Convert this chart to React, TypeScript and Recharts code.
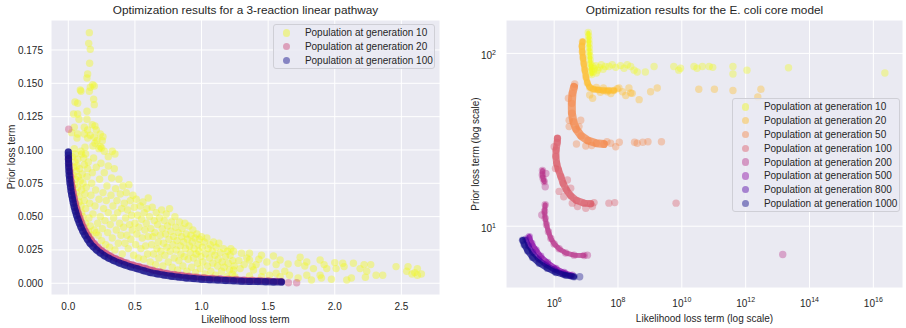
import { ScatterChart, Scatter, XAxis, YAxis, CartesianGrid } from "recharts";

type Pt = [number, number];

// ---------- left panel: 3-reaction linear pathway ----------
const linearXTicks = [0, 0.5, 1, 1.5, 2, 2.5];
const linearYTicks = [0, 0.025, 0.05, 0.075, 0.1, 0.125, 0.15, 0.175];
const linearGenerations = [10, 20, 100];
const linearColors = ["#f0f921", "#cc4778", "#0d0887"];

const linearGen10: Pt[] = [
  // sparse top of the cloud
  [0.158, 0.188], [0.153, 0.18], [0.165, 0.1755], [0.16, 0.165], [0.145, 0.157], [0.14, 0.154],
  [0.183, 0.149], [0.165, 0.147], [0.09, 0.145], [0.095, 0.144], [0.158, 0.144], [0.195, 0.148],
  [0.05, 0.136], [0.07, 0.135], [0.19, 0.138], [0.195, 0.134], [0.14, 0.129], [0.04, 0.127],
  [0.07, 0.127], [0.08, 0.123], [0.14, 0.123], [0.18, 0.119], [0.2, 0.118], [0.045, 0.117],
  [0.12, 0.117], [0.145, 0.115], [0.21, 0.115], [0.07, 0.112], [0.12, 0.112], [0.165, 0.111],
  [0.24, 0.112], [0.26, 0.11], [0.065, 0.109], [0.145, 0.109], [0.195, 0.1095], [0.2, 0.105],
  [0.255, 0.107], [0.045, 0.101], [0.125, 0.102], [0.23, 0.101], [0.25, 0.1015], [0.27, 0.099],
  [0.33, 0.099], [0.1, 0.097], [0.24, 0.1025], [0.35, 0.097], [0.025, 0.113], [0.3, 0.095],
  [0.185, 0.103], [0.215, 0.107],
  // dense band above the front
  [0.03, 0.095], [0.05, 0.091], [0.04, 0.087], [0.06, 0.084], [0.035, 0.081], [0.055, 0.078],
  [0.045, 0.074], [0.07, 0.072], [0.06, 0.068], [0.08, 0.065], [0.05, 0.097], [0.07, 0.093],
  [0.065, 0.088], [0.085, 0.086], [0.075, 0.08], [0.09, 0.077], [0.08, 0.061], [0.095, 0.058],
  [0.1, 0.07], [0.11, 0.075], [0.105, 0.082], [0.12, 0.089], [0.115, 0.094], [0.13, 0.097],
  [0.095, 0.099],
  [0.1, 0.053], [0.11, 0.05], [0.12, 0.062], [0.125, 0.067], [0.13, 0.056], [0.135, 0.072],
  [0.14, 0.08], [0.145, 0.086], [0.15, 0.091], [0.155, 0.049], [0.16, 0.06], [0.165, 0.043],
  [0.17, 0.066], [0.175, 0.075], [0.18, 0.083], [0.185, 0.052], [0.19, 0.094], [0.195, 0.04],
  [0.2, 0.058], [0.205, 0.07], [0.21, 0.087], [0.13, 0.045], [0.15, 0.039], [0.17, 0.036],
  [0.22, 0.045], [0.225, 0.036], [0.23, 0.063], [0.235, 0.078], [0.24, 0.05], [0.245, 0.09],
  [0.25, 0.032], [0.255, 0.041], [0.26, 0.068], [0.265, 0.056], [0.27, 0.083], [0.275, 0.047],
  [0.28, 0.029], [0.285, 0.062], [0.29, 0.073], [0.295, 0.038], [0.3, 0.088], [0.3, 0.053],
  [0.21, 0.038],
  [0.31, 0.027], [0.315, 0.044], [0.32, 0.066], [0.325, 0.079], [0.33, 0.034], [0.335, 0.058],
  [0.34, 0.049], [0.345, 0.086], [0.35, 0.025], [0.355, 0.071], [0.36, 0.04], [0.365, 0.062],
  [0.37, 0.053], [0.375, 0.03], [0.38, 0.078], [0.385, 0.045], [0.39, 0.067], [0.395, 0.036],
  [0.4, 0.056],
  [0.405, 0.022], [0.41, 0.073], [0.415, 0.042], [0.42, 0.06], [0.425, 0.03], [0.43, 0.049],
  [0.435, 0.068], [0.44, 0.036], [0.445, 0.055], [0.45, 0.026], [0.455, 0.074], [0.46, 0.044],
  [0.465, 0.062], [0.47, 0.033], [0.475, 0.051], [0.48, 0.04], [0.485, 0.066], [0.49, 0.021],
  [0.495, 0.057], [0.5, 0.045],
  [0.505, 0.029], [0.51, 0.063], [0.515, 0.037], [0.52, 0.051], [0.525, 0.019], [0.53, 0.042],
  [0.54, 0.058], [0.545, 0.026], [0.55, 0.048], [0.555, 0.034], [0.56, 0.061], [0.565, 0.018],
  [0.57, 0.053], [0.575, 0.04], [0.58, 0.028], [0.585, 0.045], [0.59, 0.056], [0.595, 0.022],
  [0.6, 0.035], [0.6, 0.064],
  [0.61, 0.05], [0.615, 0.016], [0.62, 0.041], [0.625, 0.029], [0.63, 0.057], [0.635, 0.035],
  [0.64, 0.022], [0.645, 0.047], [0.65, 0.038], [0.655, 0.014], [0.66, 0.053], [0.665, 0.026],
  [0.67, 0.044], [0.675, 0.031], [0.68, 0.019], [0.685, 0.049], [0.69, 0.036], [0.695, 0.024],
  [0.7, 0.055],
  [0.705, 0.041], [0.71, 0.013], [0.715, 0.03], [0.72, 0.047], [0.725, 0.021], [0.73, 0.037],
  [0.735, 0.052], [0.74, 0.027], [0.745, 0.043], [0.75, 0.016], [0.755, 0.033], [0.76, 0.056],
  [0.765, 0.024], [0.77, 0.039], [0.775, 0.046], [0.78, 0.012], [0.785, 0.029], [0.79, 0.035],
  [0.795, 0.019], [0.8, 0.05],
  [0.805, 0.042], [0.81, 0.025], [0.815, 0.032], [0.82, 0.01], [0.825, 0.038], [0.83, 0.017],
  [0.835, 0.046], [0.84, 0.028], [0.845, 0.022], [0.85, 0.035], [0.855, 0.041], [0.86, 0.013],
  [0.865, 0.031], [0.87, 0.02], [0.875, 0.045], [0.88, 0.026], [0.885, 0.037], [0.89, 0.009],
  [0.895, 0.033], [0.9, 0.018],
  [0.905, 0.043], [0.91, 0.028], [0.915, 0.023], [0.92, 0.036], [0.925, 0.012], [0.93, 0.031],
  [0.935, 0.04], [0.94, 0.019], [0.945, 0.026], [0.95, 0.034], [0.955, 0.008], [0.96, 0.022],
  [0.965, 0.037], [0.97, 0.015], [0.975, 0.029], [0.98, 0.024], [0.985, 0.033], [0.99, 0.011],
  [0.995, 0.02], [1.0, 0.035],
  [1.005, 0.027], [1.01, 0.016], [1.02, 0.031], [1.025, 0.007], [1.03, 0.022], [1.04, 0.034],
  [1.045, 0.013], [1.05, 0.026], [1.06, 0.019], [1.065, 0.029], [1.07, 0.009], [1.08, 0.024],
  [1.085, 0.015], [1.09, 0.031], [1.1, 0.021],
  [1.105, 0.006], [1.11, 0.027], [1.12, 0.013], [1.125, 0.018], [1.13, 0.03], [1.14, 0.023],
  [1.15, 0.009], [1.155, 0.016], [1.165, 0.026], [1.17, 0.012], [1.18, 0.02], [1.19, 0.005],
  [1.195, 0.024], [1.2, 0.015], [1.21, 0.01], [1.215, 0.021], [1.22, 0.026], [1.23, 0.007],
  [1.235, 0.017], [1.245, 0.013],
  // long tail
  [1.24, 0.024], [1.3, 0.0225], [1.36, 0.0225], [1.34, 0.019], [1.36, 0.0175], [1.45, 0.021],
  [1.54, 0.0205], [1.59, 0.0175], [1.49, 0.016], [1.41, 0.014], [1.56, 0.014], [1.65, 0.0145],
  [1.74, 0.0195], [1.725, 0.015], [1.79, 0.016], [1.775, 0.013], [1.89, 0.0175], [1.84, 0.011],
  [1.92, 0.014], [1.94, 0.011], [2.0, 0.0155], [2.01, 0.011], [2.06, 0.015], [2.07, 0.0125],
  [2.14, 0.015], [2.19, 0.011], [2.22, 0.014], [2.27, 0.014], [2.24, 0.009], [2.31, 0.006],
  [2.36, 0.006], [2.46, 0.0125], [2.54, 0.009], [2.55, 0.0125], [2.6, 0.008], [2.62, 0.011],
  [2.65, 0.007], [2.62, 0.006], [2.58, 0.007], [1.725, 0.004], [1.825, 0.0025], [1.9, 0.004],
  [1.975, 0.003], [2.09, 0.0025], [2.125, 0.004], [2.23, 0.0045], [1.79, 0.006], [1.89, 0.006],
  [1.66, 0.006], [1.59, 0.005], [1.51, 0.006], [1.46, 0.009], [1.39, 0.01], [1.29, 0.011],
  [1.24, 0.01], [1.25, 0.005], [1.36, 0.0055], [1.45, 0.005], [1.56, 0.0075], [1.625, 0.009],
  [1.28, 0.017], [1.32, 0.014], [1.38, 0.0125], [1.43, 0.018],
];

const linearGen20Front: Pt[] = [
  [0.002, 0.094], [0.006, 0.089], [0.012, 0.084], [0.018, 0.08], [0.024, 0.076], [0.031, 0.072],
  [0.038, 0.068], [0.046, 0.064], [0.055, 0.06], [0.065, 0.056], [0.076, 0.0525], [0.088, 0.049],
  [0.101, 0.0455], [0.116, 0.042], [0.133, 0.0387], [0.152, 0.0355], [0.173, 0.0325], [0.197, 0.0297],
  [0.223, 0.027], [0.252, 0.0246], [0.283, 0.0225], [0.317, 0.0205], [0.354, 0.0187], [0.394, 0.017],
  [0.437, 0.0154], [0.482, 0.0139], [0.53, 0.0126], [0.58, 0.0113], [0.632, 0.0098], [0.685, 0.0086],
  [0.74, 0.0076], [0.795, 0.0067], [0.85, 0.006], [0.905, 0.0053], [0.96, 0.0047], [1.02, 0.0042],
  [1.08, 0.0038], [1.14, 0.0034], [1.2, 0.0031], [1.26, 0.0028], [1.32, 0.0025], [1.38, 0.0023],
  [1.44, 0.0021], [1.5, 0.0019], [1.56, 0.0016], [1.6, 0.0014],
];
const linearGen20Stray: Pt[] = [[0.003, 0.1155], [1.652, 0.0004], [1.714, 0.0004]];

const linearGen100Front: Pt[] = [
  [0.0, 0.0985], [0.0005, 0.096], [0.001, 0.093], [0.002, 0.09], [0.003, 0.087], [0.005, 0.084],
  [0.007, 0.081], [0.01, 0.078], [0.013, 0.075], [0.017, 0.072], [0.021, 0.069], [0.026, 0.066],
  [0.032, 0.063], [0.038, 0.06], [0.045, 0.057], [0.053, 0.054], [0.062, 0.051], [0.072, 0.048],
  [0.083, 0.045], [0.095, 0.042], [0.109, 0.039], [0.125, 0.036], [0.143, 0.033], [0.163, 0.03],
  [0.186, 0.0275], [0.212, 0.025], [0.24, 0.0228], [0.27, 0.0207], [0.303, 0.0188], [0.34, 0.017],
  [0.38, 0.0153], [0.422, 0.0138], [0.467, 0.0123], [0.515, 0.011], [0.565, 0.0094], [0.615, 0.008],
  [0.667, 0.007], [0.72, 0.0061], [0.775, 0.0053], [0.83, 0.0046], [0.885, 0.004], [0.94, 0.0035],
  [1.0, 0.003], [1.06, 0.0027], [1.12, 0.0024], [1.18, 0.0021], [1.24, 0.0018], [1.3, 0.0016],
  [1.36, 0.0014], [1.42, 0.0013], [1.48, 0.0011], [1.54, 0.001], [1.6, 0.0009],
];

// ---------- right panel: E. coli core model (log-log) ----------
const ecoliXTicks = [1e6, 1e8, 1e10, 1e12, 1e14, 1e16];
const ecoliYTicks = [10, 100];
const ecoliGenerations = [10, 20, 50, 100, 200, 500, 800, 1000];
const ecoliColors = ["#f0f921", "#febd2a", "#f48849", "#db5c68", "#b83289", "#8b0aa5", "#5302a3", "#0d0887"];
const ecoliBandWidths = [4, 6, 8, 7, 5, 5, 5, 6];

const ecoliGen10Front: Pt[] = [
  [1.17e7, 132], [1.2e7, 126], [1.22e7, 120], [1.24e7, 114], [1.26e7, 108], [1.28e7, 102],
  [1.31e7, 97], [1.34e7, 92], [1.38e7, 87], [1.42e7, 83], [1.45e7, 79], [1.5e7, 75.5],
];
const ecoliGen10Stray: Pt[] = [
  [1.6e7, 84], [1.8e7, 81.5], [2e7, 85], [2.3e7, 80], [2.6e7, 83], [3e7, 86], [3.4e7, 81],
  [4e7, 84], [2.1e7, 77], [1.7e7, 78.5], [5.2e7, 84], [6.6e7, 86], [8.5e7, 83], [1.2e8, 85],
  [1.55e8, 82], [1.95e8, 86], [2.5e8, 84], [3.2e8, 80], [4e8, 78], [7.2e8, 78], [1.35e9, 84],
  [5.6e9, 84], [8e9, 80], [9.1e9, 82], [2.4e10, 84], [3e10, 82], [4.4e10, 84], [7.2e10, 84],
  [9.3e10, 83], [4e11, 84], [4e11, 76], [1.1e12, 80], [2.2e13, 82.5], [2.3e16, 77],
];

const ecoliGen20Front: Pt[] = [
  [7.7e6, 117], [7.4e6, 110], [7.6e6, 102], [8e6, 94], [8.5e6, 87], [9.1e6, 80], [9.9e6, 73],
  [1.1e7, 67.5], [1.3e7, 63.5], [1.7e7, 62], [2.4e7, 61.5], [3.5e7, 61], [5e7, 61], [7.5e7, 61],
];
const ecoliGen20Stray: Pt[] = [
  [1.3e7, 57.5], [1.6e7, 55], [2.1e7, 63.5], [2.8e7, 59.5], [3.5e7, 63], [4.6e7, 60], [6e7, 58.5],
  [9.5e7, 62.5], [1.07e8, 63], [1.38e8, 60], [1.75e8, 57], [2.2e8, 63], [2.5e8, 59], [2.8e8, 58.7],
  [4.6e8, 54], [1.05e9, 60], [1.7e9, 63], [3.4e10, 62], [1.05e11, 62], [4e11, 61], [2.4e12, 56],
  [3e12, 62],
];

const ecoliGen50Front: Pt[] = [
  [4.2e6, 64], [3.75e6, 58.7], [3.57e6, 51.4], [3.6e6, 45], [4e6, 40.3], [4.9e6, 36.4],
  [7e6, 33.3], [1.15e7, 31.3], [2.1e7, 30.2], [3.6e7, 29.9],
];
const ecoliGen50Stray: Pt[] = [
  [4.4e6, 66.5], [2.8e6, 55], [2.95e6, 41], [2.95e6, 37.7], [6.8e6, 41], [6e6, 37.7], [5e6, 29.9],
  [9.8e6, 29.1], [1.5e7, 29.3], [4.5e7, 30.8], [5.9e7, 30.2], [8.5e7, 28.8], [1.1e8, 30.6],
  [3.3e8, 30.6], [4e8, 30.2], [6e8, 30.6], [8.7e8, 30.8], [2.3e9, 30.8],
];

const ecoliGen100Front: Pt[] = [
  [1.27e6, 32.3], [1.25e6, 30.5], [1.15e6, 27.6], [1.13e6, 25.3], [1.2e6, 23.1], [1.36e6, 21.2],
  [1.62e6, 19.4], [1.91e6, 17.7], [2.43e6, 16.2], [3.3e6, 15], [5e6, 14.1], [8.7e6, 13.6], [1.4e7, 13.5],
];
const ecoliGen100Stray: Pt[] = [
  [1e6, 28.8], [1.1e6, 21.6], [1.43e6, 15.9], [2e6, 14.8], [3.7e6, 13.6], [5.4e6, 13], [9.8e6, 12.7],
  [1.58e7, 13], [1.78e7, 13.7], [2.6e6, 18.5], [3.3e6, 16.6], [5.2e7, 13.6], [7.9e7, 13.7], [6.6e9, 13.6],
];

const ecoliGen200Cluster: Pt[] = [[4.3e5, 21], [4.25e5, 19.8], [4.5e5, 18.9], [4.9e5, 18.1]];
const ecoliGen200Front: Pt[] = [
  [5.25e5, 13.3], [5e5, 12.2], [5.25e5, 11.1], [5.75e5, 10.2], [6.6e5, 9.3], [7.9e5, 8.5],
  [1e6, 7.9], [1.43e6, 7.4], [2.3e6, 7.0], [4.2e6, 6.8], [8.7e6, 6.77],
];
const ecoliGen200Stray: Pt[] = [[5.5e5, 20.2], [5.25e5, 16.9], [4.1e5, 11.6], [1.1e7, 6.8], [1.45e13, 6.86]];

const ecoliGen500Front: Pt[] = [
  [1.66e5, 8.7], [2e5, 7.95], [2.7e5, 7.3], [3.8e5, 6.7], [6.2e5, 6.17], [1.13e6, 5.7], [2.05e6, 5.4], [3.7e6, 5.2],
];
const ecoliGen800Front: Pt[] = [
  [1.3e5, 8.4], [1.58e5, 7.7], [2.1e5, 7.05], [3.2e5, 6.45], [5.5e5, 5.97], [1e6, 5.6], [1.9e6, 5.3], [3.3e6, 5.16],
];
const ecoliGen1000Front: Pt[] = [
  [1.02e5, 8.3], [1.15e5, 7.8], [1.47e5, 7.2], [2.1e5, 6.6], [3.4e5, 6.1], [6.2e5, 5.7], [1.13e6, 5.4],
  [2.3e6, 5.2], [4.2e6, 5.1],
];
const ecoliGen1000Stray: Pt[] = [[6.3e6, 5.1]];

const ecoliFronts: Pt[][][] = [
  [ecoliGen10Front], [ecoliGen20Front], [ecoliGen50Front], [ecoliGen100Front],
  [ecoliGen200Cluster, ecoliGen200Front], [ecoliGen500Front], [ecoliGen800Front], [ecoliGen1000Front],
];
const ecoliStrays: Pt[][] = [
  ecoliGen10Stray, ecoliGen20Stray, ecoliGen50Stray, ecoliGen100Stray, ecoliGen200Stray, [], [], ecoliGen1000Stray,
];

// ---------- helpers ----------
const TEXT = "#262626";
const BG = "#eaeaf2";
const DOT_R = 3.7;

const toXY = (pts: Pt[]) => pts.map(([x, y]) => ({ x, y }));

const dotShape = (color: string, opacity: number) => (p: any) =>
  <circle cx={p.cx} cy={p.cy} r={DOT_R} fill={color} fillOpacity={opacity} />;

function band(key: string, pts: Pt[], color: string, width: number) {
  return (
    <Scatter
      key={key}
      data={toXY(pts)}
      fill={color}
      isAnimationActive={false}
      shape={dotShape(color, 0.38)}
      line={{ stroke: color, strokeWidth: width, strokeOpacity: 0.75, strokeLinecap: "round", strokeLinejoin: "round" }}
    />
  );
}

function cloud(key: string, pts: Pt[], color: string, opacity = 0.38) {
  return (
    <Scatter key={key} data={toXY(pts)} fill={color} isAnimationActive={false} shape={dotShape(color, opacity)} />
  );
}

function PowerTick(props: any) {
  const { x, y, payload, textAnchor, side } = props;
  const exp = Math.round(Math.log10(payload.value));
  return (
    <text x={x} y={y} textAnchor={textAnchor} fill={TEXT} fontSize={10} dy={side === "y" ? "0.6em" : "1.05em"}>
      10<tspan fontSize={7} dy={-4.5}>{exp}</tspan>
    </text>
  );
}

function LegendBox({ left, top, width, gens, colors }: { left: number; top: number; width: number; gens: number[]; colors: string[] }) {
  return (
    <div
      style={{
        position: "absolute", left, top, width, padding: "1px 0", boxSizing: "border-box",
        background: "rgba(234,234,242,0.8)", border: "1px solid #cfcfd6", borderRadius: 3,
      }}
    >
      {gens.map((g, i) => (
        <div key={g} style={{ height: 13.8, display: "flex", alignItems: "center" }}>
          <span style={{ width: 7.4, height: 7.4, borderRadius: "50%", background: colors[i], opacity: 0.45, marginLeft: 9, marginRight: 14.5, flex: "none" }} />
          <span style={{ fontSize: 10, color: TEXT, whiteSpace: "nowrap" }}>Population at generation {g}</span>
        </div>
      ))}
    </div>
  );
}

const label = (text: string, left: number, top: number, size: number, rotate = false) => (
  <div
    style={{
      position: "absolute", left, top, fontSize: size, color: TEXT, whiteSpace: "nowrap",
      transform: `translate(-50%, -50%)${rotate ? " rotate(-90deg)" : ""}`,
    }}
  >
    {text}
  </div>
);

export default function App() {
  return (
    <div
      style={{
        position: "absolute", left: 0, top: 0, width: 906, height: 328, overflow: "hidden",
        background: "#fff", fontFamily: '"Liberation Sans", Arial, sans-serif',
      }}
    >
      <div style={{ position: "absolute", left: 0, top: 0 }}>
        <ScatterChart width={450} height={328} margin={{ top: 20, right: 10, bottom: 3, left: 0 }}>
          <CartesianGrid fill={BG} stroke="#fff" strokeWidth={1} />
          <XAxis
            type="number" dataKey="x" domain={[-0.13, 2.79]} ticks={linearXTicks} interval={0}
            allowDataOverflow height={30} tickLine={false} axisLine={false}
            tick={{ fill: TEXT, fontSize: 10 }} tickFormatter={(v: number) => v.toFixed(1)}
          />
          <YAxis
            type="number" dataKey="y" domain={[-0.0088, 0.1975]} ticks={linearYTicks} interval={0}
            allowDataOverflow width={51} tickLine={false} axisLine={false}
            tick={{ fill: TEXT, fontSize: 10 }} tickFormatter={(v: number) => v.toFixed(3)}
          />
          {cloud("l10", linearGen10, linearColors[0], 0.42)}
          {band("l20f", linearGen20Front, linearColors[1], 6)}
          {cloud("l20s", linearGen20Stray, linearColors[1], 0.4)}
          {band("l100f", linearGen100Front, linearColors[2], 7)}
        </ScatterChart>
      </div>

      <div style={{ position: "absolute", left: 450, top: 0 }}>
        <ScatterChart width={456} height={328} margin={{ top: 20, right: 3, bottom: 10, left: 0 }}>
          <CartesianGrid fill={BG} stroke="#fff" strokeWidth={1} />
          <XAxis
            type="number" dataKey="x" scale="log" domain={[3.1e4, 8.5e16]} ticks={ecoliXTicks} interval={0}
            allowDataOverflow height={30} tickLine={false} axisLine={false}
            tick={(p: any) => <PowerTick {...p} side="x" />}
          />
          <YAxis
            type="number" dataKey="y" scale="log" domain={[4.39, 156]} ticks={ecoliYTicks} interval={0}
            allowDataOverflow width={56} tickLine={false} axisLine={false} tickMargin={4}
            tick={(p: any) => <PowerTick {...p} side="y" />}
          />
          {ecoliGenerations.map((g, i) => [
            ...ecoliFronts[i].map((f, j) => band(`e${g}f${j}`, f, ecoliColors[i], ecoliBandWidths[i])),
            cloud(`e${g}s`, ecoliStrays[i], ecoliColors[i]),
          ])}
        </ScatterChart>
      </div>

      {label("Optimization results for a 3-reaction linear pathway", 245.5, 10, 11.8)}
      {label("Optimization results for the E. coli core model", 704.5, 10, 11.8)}
      {label("Likelihood loss term", 245.5, 319, 10)}
      {label("Likelihood loss term (log scale)", 704.5, 318, 10)}
      {label("Prior loss term", 10.5, 157, 10, true)}
      {label("Prior loss term (log scale)", 474.5, 154, 10, true)}

      <LegendBox left={273} top={24} width={162} gens={linearGenerations} colors={linearColors} />
      <LegendBox left={732} top={98} width={168} gens={ecoliGenerations} colors={ecoliColors} />
    </div>
  );
}
